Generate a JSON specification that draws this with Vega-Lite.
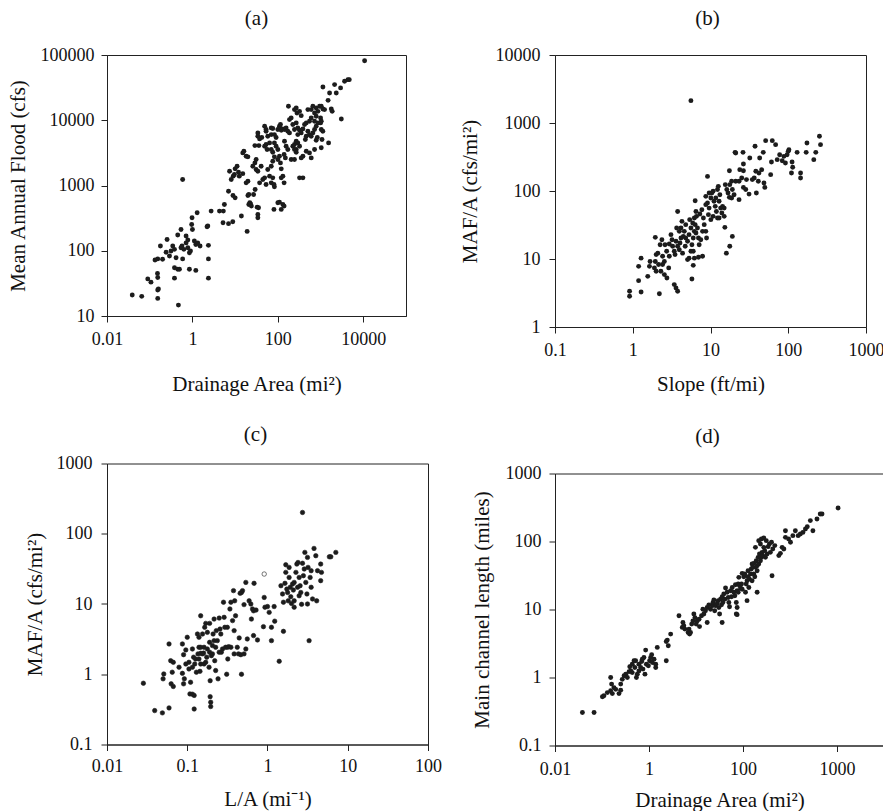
{
  "$schema": "https://vega.github.io/schema/vega-lite/v6.json",
  "background": "white",
  "padding": {"left": 6, "top": 7, "right": 0, "bottom": 0},
  "config": {
    "font": "Liberation Serif",
    "view": {"stroke": "#222", "strokeWidth": 1},
    "axis": {"grid": false, "domainColor": "#222", "tickColor": "#222", "labelColor": "#111", "titleColor": "#111", "labelFontSize": 18, "titleFontSize": 21, "titleFontWeight": "normal", "tickSize": 6, "labelFlush": false, "labelOverlap": false, "labelBound": false, "labelFont": "Liberation Serif", "titleFont": "Liberation Serif"},
    "title": {"fontSize": 21, "fontWeight": "normal", "font": "Liberation Serif", "color": "#111", "baseline": "alphabetic", "frame": "group", "anchor": "middle"},
    "circle": {"size": 24, "opacity": 1, "color": "#1c1c1c"}
  },
  "datasets": {
    "a": [
      {"area":0.039,"maf":21},{"area":0.065,"maf":20},{"area":0.154,"maf":18.6},{"area":0.09,"maf":37},{"area":0.107,"maf":33},{"area":0.154,"maf":25},{"area":0.16,"maf":26},{"area":0.154,"maf":39},{"area":0.152,"maf":45},{"area":0.47,"maf":14.7},
      {"area":0.38,"maf":38},{"area":0.59,"maf":75},{"area":0.133,"maf":72},{"area":0.154,"maf":75},{"area":0.178,"maf":118},{"area":0.242,"maf":95},{"area":0.2,"maf":74},{"area":0.255,"maf":149},{"area":0.29,"maf":83},{"area":0.316,"maf":99},
      {"area":0.346,"maf":118},{"area":0.38,"maf":105},{"area":0.414,"maf":78},{"area":0.38,"maf":55},{"area":0.453,"maf":52},{"area":0.496,"maf":52},{"area":0.54,"maf":111},{"area":0.57,"maf":118},{"area":0.63,"maf":105},{"area":0.71,"maf":132},
      {"area":0.78,"maf":111},{"area":0.85,"maf":93},{"area":0.85,"maf":52},{"area":0.78,"maf":146},{"area":0.71,"maf":168},{"area":0.453,"maf":174},{"area":0.54,"maf":212},{"area":0.59,"maf":1236},{"area":0.96,"maf":253},{"area":0.98,"maf":320},
      {"area":1.29,"maf":382},{"area":1.0,"maf":212},{"area":1.11,"maf":141},{"area":1.2,"maf":125},{"area":1.33,"maf":132},{"area":1.51,"maf":118},{"area":1.2,"maf":50},{"area":0.9,"maf":99},{"area":2.29,"maf":239},{"area":2.2,"maf":233},
      {"area":2.37,"maf":121},{"area":2.37,"maf":75},{"area":2.37,"maf":38},{"area":2.74,"maf":405},{"area":4.3,"maf":405},{"area":5.3,"maf":405},{"area":5.6,"maf":512},{"area":5.2,"maf":268},{"area":7.0,"maf":260},{"area":8.8,"maf":278},
      {"area":7.0,"maf":818},{"area":8.9,"maf":703},{"area":10,"maf":647},{"area":7.4,"maf":1655},{"area":8.1,"maf":1236},{"area":9.0,"maf":1390},{"area":9.6,"maf":1474},{"area":10,"maf":1798},{"area":11.1,"maf":1977},{"area":12,"maf":1600},
      {"area":12.5,"maf":1390},{"area":15.1,"maf":1520},{"area":14,"maf":340},{"area":19.1,"maf":198},{"area":19.9,"maf":703},{"area":20.9,"maf":512},{"area":22,"maf":543},{"area":20.9,"maf":728},{"area":23,"maf":520},{"area":24,"maf":483},
      {"area":18.1,"maf":1099},{"area":19.9,"maf":1160},{"area":15.1,"maf":3160},{"area":16,"maf":3350},{"area":18.1,"maf":2810},{"area":19.9,"maf":2750},{"area":27,"maf":728},{"area":29.4,"maf":869},{"area":32.8,"maf":466},{"area":34,"maf":360},
      {"area":34,"maf":320},{"area":35.3,"maf":455},{"area":25.9,"maf":1977},{"area":29,"maf":2220},{"area":31,"maf":2500},{"area":31,"maf":1760},{"area":34,"maf":1655},{"area":40.6,"maf":1977},{"area":37.4,"maf":1099},{"area":44.5,"maf":1236},
      {"area":49,"maf":1310},{"area":53,"maf":1035},{"area":58,"maf":1760},{"area":64,"maf":1390},{"area":70,"maf":1099},{"area":70,"maf":1977},{"area":76,"maf":1310},{"area":81,"maf":1035},{"area":83,"maf":955},{"area":76,"maf":2355},
      {"area":83,"maf":2750},{"area":76,"maf":3236},{"area":70,"maf":3556},{"area":64,"maf":4500},{"area":53,"maf":6790},{"area":58,"maf":5690},{"area":70,"maf":6030},{"area":83,"maf":4500},{"area":91,"maf":4000},{"area":100,"maf":3556},
      {"area":109,"maf":2810},{"area":100,"maf":2500},{"area":115,"maf":2220},{"area":120,"maf":1800},{"area":131,"maf":1390},{"area":140,"maf":1099},{"area":120,"maf":1310},{"area":131,"maf":512},{"area":140,"maf":483},{"area":120,"maf":430},
      {"area":109,"maf":556},{"area":100,"maf":543},{"area":81,"maf":430},{"area":34,"maf":5690},{"area":37.4,"maf":5180},{"area":42,"maf":5430},{"area":49,"maf":8090},{"area":53,"maf":7200},{"area":34,"maf":6400},{"area":29,"maf":4090},
      {"area":36,"maf":4090},{"area":49,"maf":4000},{"area":53,"maf":4250},{"area":56,"maf":3556},{"area":70,"maf":7640},{"area":76,"maf":7460},{"area":83,"maf":6030},{"area":91,"maf":5430},{"area":100,"maf":7200},{"area":109,"maf":8090},
      {"area":115,"maf":8590},{"area":120,"maf":7040},{"area":131,"maf":7370},{"area":143,"maf":7200},{"area":156,"maf":7640},{"area":171,"maf":6790},{"area":187,"maf":6400},{"area":143,"maf":4770},{"area":156,"maf":4000},{"area":171,"maf":3556},
      {"area":140,"maf":2980},{"area":150,"maf":2650},{"area":205,"maf":2500},{"area":224,"maf":4000},{"area":245,"maf":4250},{"area":187,"maf":10230},{"area":205,"maf":10860},{"area":224,"maf":8590},{"area":245,"maf":7200},{"area":269,"maf":9100},
      {"area":293,"maf":7640},{"area":322,"maf":7040},{"area":352,"maf":6400},{"area":386,"maf":7370},{"area":422,"maf":8590},{"area":462,"maf":9100},{"area":462,"maf":5690},{"area":440,"maf":5080},{"area":269,"maf":4770},{"area":293,"maf":4500},
      {"area":322,"maf":4000},{"area":269,"maf":3556},{"area":245,"maf":2500},{"area":245,"maf":3556},{"area":293,"maf":6030},{"area":177,"maf":16370},{"area":245,"maf":14560},{"area":269,"maf":15420},{"area":280,"maf":12940},{"area":322,"maf":13700},
      {"area":352,"maf":11770},{"area":505,"maf":14560},{"area":604,"maf":14560},{"area":723,"maf":12940},{"area":660,"maf":16370},{"area":790,"maf":15420},{"area":866,"maf":13700},{"area":950,"maf":16370},{"area":1037,"maf":16370},{"area":1130,"maf":14900},
      {"area":1000,"maf":10860},{"area":1037,"maf":9660},{"area":1240,"maf":14560},{"area":505,"maf":6790},{"area":550,"maf":6030},{"area":604,"maf":5690},{"area":660,"maf":6400},{"area":723,"maf":7200},{"area":790,"maf":8090},{"area":866,"maf":9100},
      {"area":723,"maf":9660},{"area":790,"maf":11510},{"area":550,"maf":9660},{"area":604,"maf":10860},{"area":1037,"maf":7200},{"area":790,"maf":4940},{"area":1037,"maf":3780},{"area":386,"maf":2810},{"area":352,"maf":2650},{"area":322,"maf":1310},
      {"area":386,"maf":1310},{"area":269,"maf":3236},{"area":1000,"maf":9100},{"area":1130,"maf":6790},{"area":840,"maf":5430},{"area":1080,"maf":5080},{"area":723,"maf":3556},{"area":550,"maf":3160},{"area":462,"maf":3350},{"area":604,"maf":2650},
      {"area":1135,"maf":32400},{"area":1625,"maf":26200},{"area":1500,"maf":20200},{"area":1780,"maf":14900},{"area":1870,"maf":13700},{"area":1540,"maf":4500},{"area":2130,"maf":35200},{"area":2330,"maf":26200},{"area":2940,"maf":31300},{"area":3060,"maf":10470},
      {"area":3650,"maf":39500},{"area":4370,"maf":41900},{"area":4700,"maf":41900},{"area":10740,"maf":81800}
    ],
    "b": [
      {"slope":0.91,"mafA":3.35},{"slope":0.91,"mafA":2.83},{"slope":1.28,"mafA":3.27},{"slope":1.19,"mafA":4.8},{"slope":1.19,"mafA":7.8},{"slope":1.28,"mafA":10.3},{"slope":1.56,"mafA":5.56},{"slope":1.67,"mafA":9.2},{"slope":1.95,"mafA":20.8},{"slope":2.0,"mafA":11.6},
      {"slope":1.95,"mafA":9.2},{"slope":1.9,"mafA":7.4},{"slope":2.2,"mafA":3.09},{"slope":2.15,"mafA":8.3},{"slope":2.3,"mafA":6.6},{"slope":2.25,"mafA":16.2},{"slope":2.37,"mafA":19.2},{"slope":2.42,"mafA":11},{"slope":2.55,"mafA":9.2},{"slope":2.73,"mafA":13},
      {"slope":2.6,"mafA":16.2},{"slope":2.75,"mafA":5.25},{"slope":2.9,"mafA":7.4},{"slope":2.95,"mafA":11},{"slope":3.1,"mafA":22.8},{"slope":3.26,"mafA":15.4},{"slope":3.2,"mafA":19.2},{"slope":3.42,"mafA":13},{"slope":3.5,"mafA":11.6},{"slope":3.42,"mafA":4.2},
      {"slope":3.6,"mafA":3.75},{"slope":3.78,"mafA":3.35},{"slope":3.78,"mafA":50},{"slope":3.67,"mafA":28.6},{"slope":3.78,"mafA":15.4},{"slope":3.97,"mafA":13.7},{"slope":4.05,"mafA":17.2},{"slope":4.17,"mafA":28.6},{"slope":4.29,"mafA":35.8},{"slope":4.47,"mafA":21.5},
      {"slope":4.6,"mafA":25.5},{"slope":4.73,"mafA":15.4},{"slope":4.8,"mafA":20.4},{"slope":5.07,"mafA":9.8},{"slope":5.3,"mafA":10.3},{"slope":5.6,"mafA":13},{"slope":5.3,"mafA":22.8},{"slope":5.6,"mafA":28.6},{"slope":5.4,"mafA":37.9},{"slope":5.77,"mafA":16.2},
      {"slope":6.0,"mafA":20.4},{"slope":6.2,"mafA":25.5},{"slope":6.35,"mafA":32},{"slope":6.2,"mafA":40},{"slope":6.35,"mafA":72},{"slope":6.5,"mafA":50},{"slope":6.6,"mafA":42.4},{"slope":6.8,"mafA":28.6},{"slope":7.0,"mafA":20.4},{"slope":7.15,"mafA":16.2},
      {"slope":6.0,"mafA":13},{"slope":6.0,"mafA":8.07},{"slope":5.77,"mafA":5.08},{"slope":7.0,"mafA":10.6},{"slope":7.9,"mafA":11},{"slope":7.3,"mafA":45.9},{"slope":7.74,"mafA":53},{"slope":8.1,"mafA":40},{"slope":8.3,"mafA":32},{"slope":8.7,"mafA":25.5},
      {"slope":8.9,"mafA":20.4},{"slope":9.15,"mafA":164},{"slope":8.7,"mafA":83.5},{"slope":9.15,"mafA":66.7},{"slope":9.6,"mafA":56},{"slope":9.4,"mafA":44.9},{"slope":10.1,"mafA":79},{"slope":10.4,"mafA":93.5},{"slope":9.6,"mafA":93.5},{"slope":10.8,"mafA":99},
      {"slope":11.1,"mafA":70.5},{"slope":11.5,"mafA":59.5},{"slope":11.7,"mafA":79},{"slope":11.9,"mafA":50},{"slope":12.3,"mafA":105},{"slope":12.6,"mafA":117},{"slope":12.3,"mafA":40},{"slope":12.9,"mafA":70.5},{"slope":13.2,"mafA":88},{"slope":13.5,"mafA":56},
      {"slope":14,"mafA":47.5},{"slope":14.3,"mafA":59.5},{"slope":15,"mafA":42.4},{"slope":15.3,"mafA":29.2},{"slope":16,"mafA":12.2},{"slope":17.7,"mafA":15.4},{"slope":19.1,"mafA":21.5},{"slope":15.5,"mafA":124},{"slope":16.2,"mafA":105},{"slope":16.8,"mafA":93.5},
      {"slope":17.5,"mafA":80.7},{"slope":17.7,"mafA":124},{"slope":18.7,"mafA":139},{"slope":19.1,"mafA":105},{"slope":20.1,"mafA":88},{"slope":17.5,"mafA":199},{"slope":18.7,"mafA":79},{"slope":21.1,"mafA":139},{"slope":21.1,"mafA":362},{"slope":20.7,"mafA":370},
      {"slope":23.3,"mafA":139},{"slope":23.3,"mafA":74.6},{"slope":23.8,"mafA":206},{"slope":25.2,"mafA":155},{"slope":26.2,"mafA":370},{"slope":26.5,"mafA":249},{"slope":26.5,"mafA":199},{"slope":26.5,"mafA":113},{"slope":28.4,"mafA":105},{"slope":29,"mafA":147},
      {"slope":31.3,"mafA":90},{"slope":32,"mafA":305},{"slope":34.5,"mafA":147},{"slope":36.5,"mafA":155},{"slope":37.4,"mafA":454},{"slope":38.3,"mafA":195},{"slope":38.9,"mafA":93.5},{"slope":41.2,"mafA":139},{"slope":42,"mafA":184},{"slope":42.9,"mafA":305},
      {"slope":45.5,"mafA":206},{"slope":47.7,"mafA":370},{"slope":48.7,"mafA":131},{"slope":50,"mafA":113},{"slope":51.2,"mafA":550},{"slope":59.4,"mafA":174},{"slope":60.8,"mafA":267},{"slope":62.3,"mafA":550},{"slope":68.8,"mafA":480},{"slope":72.1,"mafA":289},
      {"slope":77.5,"mafA":342},{"slope":83.7,"mafA":279},{"slope":88,"mafA":323},{"slope":92,"mafA":258},{"slope":96.6,"mafA":342},{"slope":102,"mafA":405},{"slope":100,"mafA":383},{"slope":112,"mafA":267},{"slope":110,"mafA":184},{"slope":114,"mafA":223},
      {"slope":130,"mafA":370},{"slope":144,"mafA":184},{"slope":144,"mafA":155},{"slope":170,"mafA":370},{"slope":174,"mafA":508},{"slope":213,"mafA":289},{"slope":226,"mafA":370},{"slope":252,"mafA":637},{"slope":260,"mafA":480},{"slope":5.6,"mafA":2130},
      {"slope":4.17,"mafA":20.4},{"slope":4.37,"mafA":12.2},{"slope":5.07,"mafA":18.2},{"slope":6.5,"mafA":24.1},{"slope":7.5,"mafA":19.2},{"slope":7.9,"mafA":25.5},{"slope":3.97,"mafA":25.5},{"slope":2.95,"mafA":16.6},{"slope":2.42,"mafA":8.3},{"slope":2.1,"mafA":12.2},
      {"slope":3.6,"mafA":18.2},{"slope":4.8,"mafA":32},{"slope":5.9,"mafA":33.8},{"slope":10.8,"mafA":42.4},{"slope":10.1,"mafA":37.9},{"slope":8.7,"mafA":63},{"slope":15,"mafA":56},{"slope":12.9,"mafA":40},{"slope":2.55,"mafA":5.9},{"slope":2.0,"mafA":6.6},
      {"slope":1.64,"mafA":7.8},{"slope":6.2,"mafA":10.3}
    ],
    "c": [
      {"LA":0.0284,"mafA":0.745},{"LA":0.0393,"mafA":0.304},{"LA":0.049,"mafA":0.282},{"LA":0.0593,"mafA":0.332},{"LA":0.051,"mafA":1.01},{"LA":0.05,"mafA":0.86},{"LA":0.0593,"mafA":2.7},{"LA":0.0622,"mafA":1.56},{"LA":0.067,"mafA":1.48},{"LA":0.063,"mafA":0.73},
      {"LA":0.067,"mafA":0.67},{"LA":0.065,"mafA":1.07},{"LA":0.079,"mafA":1.26},{"LA":0.087,"mafA":2.7},{"LA":0.09,"mafA":1.9},{"LA":0.09,"mafA":0.73},{"LA":0.092,"mafA":0.86},{"LA":0.096,"mafA":2.22},{"LA":0.1,"mafA":3.36},{"LA":0.105,"mafA":1.48},
      {"LA":0.105,"mafA":1.19},{"LA":0.108,"mafA":0.525},{"LA":0.116,"mafA":0.52},{"LA":0.122,"mafA":0.32},{"LA":0.122,"mafA":0.5},{"LA":0.11,"mafA":0.77},{"LA":0.116,"mafA":2.29},{"LA":0.12,"mafA":1.75},{"LA":0.124,"mafA":1.4},{"LA":0.127,"mafA":1.65},
      {"LA":0.134,"mafA":3.74},{"LA":0.136,"mafA":1.95},{"LA":0.14,"mafA":3.36},{"LA":0.14,"mafA":1.65},{"LA":0.144,"mafA":1.1},{"LA":0.147,"mafA":1.4},{"LA":0.147,"mafA":1.99},{"LA":0.155,"mafA":3.74},{"LA":0.16,"mafA":2.0},{"LA":0.162,"mafA":2.42},
      {"LA":0.165,"mafA":4.66},{"LA":0.17,"mafA":5.3},{"LA":0.175,"mafA":1.75},{"LA":0.178,"mafA":2.29},{"LA":0.178,"mafA":3.95},{"LA":0.19,"mafA":5.3},{"LA":0.19,"mafA":2.85},{"LA":0.19,"mafA":2.06},{"LA":0.193,"mafA":0.48},{"LA":0.196,"mafA":0.4},
      {"LA":0.196,"mafA":0.347},{"LA":0.193,"mafA":0.81},{"LA":0.2,"mafA":1.84},{"LA":0.206,"mafA":2.56},{"LA":0.21,"mafA":3.74},{"LA":0.216,"mafA":6.1},{"LA":0.22,"mafA":1.56},{"LA":0.226,"mafA":1.13},{"LA":0.23,"mafA":4.18},{"LA":0.242,"mafA":0.86},
      {"LA":0.25,"mafA":2.06},{"LA":0.256,"mafA":4.4},{"LA":0.266,"mafA":2.06},{"LA":0.275,"mafA":2.29},{"LA":0.283,"mafA":10.6},{"LA":0.288,"mafA":6.46},{"LA":0.294,"mafA":4.66},{"LA":0.3,"mafA":2.42},{"LA":0.31,"mafA":1.0},{"LA":0.32,"mafA":1.65},
      {"LA":0.33,"mafA":2.47},{"LA":0.34,"mafA":8.5},{"LA":0.35,"mafA":2.42},{"LA":0.367,"mafA":5.8},{"LA":0.377,"mafA":15.5},{"LA":0.384,"mafA":1.95},{"LA":0.39,"mafA":11.1},{"LA":0.4,"mafA":6.8},{"LA":0.42,"mafA":2.42},{"LA":0.444,"mafA":3.29},
      {"LA":0.456,"mafA":14.2},{"LA":0.474,"mafA":14.6},{"LA":0.465,"mafA":1.9},{"LA":0.474,"mafA":1.0},{"LA":0.488,"mafA":15.5},{"LA":0.51,"mafA":1.95},{"LA":0.537,"mafA":2.29},{"LA":0.56,"mafA":3.18},{"LA":0.537,"mafA":20.3},{"LA":0.59,"mafA":11.1},
      {"LA":0.62,"mafA":10},{"LA":0.65,"mafA":8.5},{"LA":0.67,"mafA":8.0},{"LA":0.63,"mafA":6.1},{"LA":0.67,"mafA":3.55},{"LA":0.68,"mafA":19.7},{"LA":0.75,"mafA":3.08},{"LA":0.72,"mafA":8.2},{"LA":0.91,"mafA":26.7,"open":1},{"LA":0.91,"mafA":12.4},
      {"LA":0.93,"mafA":9.0},{"LA":0.89,"mafA":4.76},{"LA":1.0,"mafA":9.2},{"LA":1.05,"mafA":7.6},{"LA":1.12,"mafA":4.66},{"LA":1.12,"mafA":3.01},{"LA":1.23,"mafA":5.7},{"LA":1.21,"mafA":9.2},{"LA":1.4,"mafA":1.53},{"LA":1.58,"mafA":4.08},
      {"LA":1.47,"mafA":18.2},{"LA":1.54,"mafA":13.9},{"LA":1.58,"mafA":10.6},{"LA":1.65,"mafA":19.7},{"LA":1.69,"mafA":28.2},{"LA":1.69,"mafA":36.2},{"LA":1.74,"mafA":16.3},{"LA":1.78,"mafA":14.6},{"LA":1.81,"mafA":11.1},{"LA":1.86,"mafA":23.9},
      {"LA":1.86,"mafA":33.2},{"LA":1.92,"mafA":17.3},{"LA":1.95,"mafA":12.7},{"LA":1.99,"mafA":10.2},{"LA":2.05,"mafA":19.2},{"LA":2.1,"mafA":15.8},{"LA":2.15,"mafA":11.1},{"LA":2.26,"mafA":28.2},{"LA":2.32,"mafA":37},{"LA":2.37,"mafA":17.3},
      {"LA":2.4,"mafA":39},{"LA":2.48,"mafA":23.9},{"LA":2.55,"mafA":18.2},{"LA":2.6,"mafA":14.6},{"LA":2.66,"mafA":9.9},{"LA":2.73,"mafA":201},{"LA":2.73,"mafA":38},{"LA":2.8,"mafA":25.3},{"LA":2.87,"mafA":31.5},{"LA":2.92,"mafA":54.3},
      {"LA":3.0,"mafA":20.3},{"LA":3.1,"mafA":13.9},{"LA":3.15,"mafA":46.1},{"LA":3.2,"mafA":33.2},{"LA":3.3,"mafA":3.01},{"LA":3.4,"mafA":23.9},{"LA":3.5,"mafA":29.8},{"LA":3.64,"mafA":11.8},{"LA":3.8,"mafA":61.8},{"LA":4.0,"mafA":48.7},
      {"LA":4.1,"mafA":11.1},{"LA":4.2,"mafA":29.8},{"LA":4.6,"mafA":37},{"LA":4.7,"mafA":28.2},{"LA":5.9,"mafA":47},{"LA":6.15,"mafA":47},{"LA":7.1,"mafA":54.3},{"LA":3.15,"mafA":10},{"LA":2.15,"mafA":9.0},{"LA":0.216,"mafA":3.01},
      {"LA":0.155,"mafA":1.95},{"LA":0.14,"mafA":2.42},{"LA":0.162,"mafA":1.4},{"LA":0.13,"mafA":1.07},{"LA":0.116,"mafA":1.26},{"LA":0.147,"mafA":2.42},{"LA":0.226,"mafA":2.42},{"LA":0.237,"mafA":3.01},{"LA":0.262,"mafA":3.74},{"LA":0.316,"mafA":2.42},
      {"LA":0.384,"mafA":4.18},{"LA":0.435,"mafA":1.95},{"LA":0.206,"mafA":1.95},{"LA":0.187,"mafA":1.26},{"LA":0.17,"mafA":1.48},{"LA":0.096,"mafA":1.4},{"LA":0.087,"mafA":1.03},{"LA":0.147,"mafA":6.8},{"LA":0.25,"mafA":6.3},{"LA":0.316,"mafA":4.66},
      {"LA":0.35,"mafA":10.6},{"LA":0.51,"mafA":9.8},{"LA":2.15,"mafA":20.3},{"LA":2.48,"mafA":13.1},{"LA":4.6,"mafA":21.5},{"LA":3.5,"mafA":17.3}
    ],
    "d": [
      {"area":0.0383,"length":0.305},{"area":0.0678,"length":0.305},{"area":0.102,"length":0.52},{"area":0.11,"length":0.54},{"area":0.13,"length":0.6},{"area":0.153,"length":0.64},{"area":0.153,"length":1.0},{"area":0.16,"length":0.8},{"area":0.18,"length":0.71},{"area":0.166,"length":0.58},
      {"area":0.196,"length":0.67},{"area":0.23,"length":0.58},{"area":0.25,"length":0.65},{"area":0.25,"length":0.8},{"area":0.27,"length":0.94},{"area":0.295,"length":1.06},{"area":0.32,"length":1.12},{"area":0.346,"length":1.0},{"area":0.376,"length":1.22},{"area":0.39,"length":1.44},
      {"area":0.41,"length":1.25},{"area":0.44,"length":1.57},{"area":0.48,"length":1.76},{"area":0.5,"length":1.4},{"area":0.52,"length":1.76},{"area":0.54,"length":1.0},{"area":0.565,"length":1.12},{"area":0.61,"length":1.57},{"area":0.665,"length":1.4},{"area":0.7,"length":1.72},
      {"area":0.745,"length":1.33},{"area":0.78,"length":1.97},{"area":0.82,"length":1.12},{"area":0.85,"length":2.53},{"area":0.88,"length":1.57},{"area":0.97,"length":1.49},{"area":1.03,"length":1.76},{"area":1.085,"length":1.97},{"area":1.14,"length":2.16},{"area":1.18,"length":1.66},
      {"area":1.28,"length":1.86},{"area":1.39,"length":1.4},{"area":1.5,"length":2.77},{"area":2.33,"length":1.76},{"area":2.33,"length":3.39},{"area":2.57,"length":2.93},{"area":2.45,"length":3.55},{"area":2.89,"length":4.35},{"area":4.34,"length":8.1},{"area":5.1,"length":5.45},
      {"area":5.27,"length":6.45},{"area":5.5,"length":5.77},{"area":5.8,"length":5.15},{"area":6.8,"length":4.6},{"area":7.3,"length":4.35},{"area":7.65,"length":4.6},{"area":7.1,"length":5.15},{"area":8.1,"length":6.1},{"area":8.6,"length":6.8},{"area":9.0,"length":8.6},
      {"area":9.5,"length":7.6},{"area":10.1,"length":6.1},{"area":10.6,"length":6.8},{"area":11.6,"length":7.2},{"area":11.9,"length":5.6},{"area":13.1,"length":8.1},{"area":14.0,"length":10.1},{"area":14.7,"length":8.6},{"area":15.9,"length":9.6},{"area":17.3,"length":6.45},
      {"area":17.3,"length":10.7},{"area":18.8,"length":11.7},{"area":20.4,"length":10.1},{"area":22.2,"length":11.4},{"area":23,"length":12.7},{"area":24,"length":13.8},{"area":25,"length":9.6},{"area":26,"length":11.4},{"area":28.3,"length":12.3},{"area":29.6,"length":13.5},
      {"area":30.6,"length":10.7},{"area":31.8,"length":8.6},{"area":33.3,"length":14.2},{"area":34.9,"length":11.7},{"area":36,"length":15.4},{"area":37.3,"length":12.7},{"area":36,"length":6.45},{"area":39,"length":16.9},{"area":41,"length":14.2},{"area":42.5,"length":20.7},
      {"area":46,"length":17.9},{"area":48.5,"length":15.0},{"area":50,"length":12.7},{"area":51.7,"length":11.0},{"area":54.5,"length":18.9},{"area":57,"length":15.4},{"area":59,"length":21.1},{"area":64,"length":17.9},{"area":67,"length":15.9},{"area":69,"length":23.1},
      {"area":72,"length":8.6},{"area":72,"length":12.7},{"area":75,"length":18.9},{"area":79,"length":17.9},{"area":75,"length":8.4},{"area":75,"length":10.7},{"area":79,"length":23.7},{"area":81.5,"length":29.7},{"area":84,"length":22.6},{"area":88.5,"length":20.7},
      {"area":93,"length":23.7},{"area":96,"length":19.9},{"area":96,"length":34},{"area":104,"length":30.3},{"area":109,"length":33.2},{"area":113,"length":17.9},{"area":117,"length":23.7},{"area":122,"length":26.5},{"area":122,"length":13.5},{"area":128,"length":37.2},
      {"area":128,"length":30.3},{"area":133,"length":21.1},{"area":137,"length":28},{"area":144,"length":33.2},{"area":150,"length":39.4},{"area":156,"length":26.5},{"area":156,"length":46.7},{"area":161,"length":41.7},{"area":170,"length":33.2},{"area":170,"length":47.7},
      {"area":178,"length":30.3},{"area":184,"length":41.7},{"area":191,"length":52.2},{"area":200,"length":37.2},{"area":200,"length":44},{"area":210,"length":58.5},{"area":216,"length":46.7},{"area":224,"length":65.5},{"area":235,"length":52.2},{"area":246,"length":58.5},
      {"area":255,"length":69.2},{"area":264,"length":62},{"area":277,"length":82},{"area":290,"length":73.3},{"area":300,"length":58.5},{"area":326,"length":65.5},{"area":343,"length":84},{"area":364,"length":91.9},{"area":382,"length":69.2},{"area":404,"length":97.3},
      {"area":430,"length":77.6},{"area":475,"length":87},{"area":578,"length":62},{"area":625,"length":67},{"area":680,"length":82},{"area":740,"length":77.6},{"area":800,"length":115},{"area":800,"length":144},{"area":935,"length":109},{"area":1025,"length":97.3},
      {"area":1150,"length":122},{"area":1300,"length":144},{"area":1490,"length":122},{"area":1660,"length":129},{"area":1880,"length":136},{"area":2130,"length":153},{"area":2330,"length":165},{"area":2710,"length":203},{"area":3070,"length":144},{"area":3750,"length":214},
      {"area":4400,"length":254},{"area":4800,"length":254},{"area":10540,"length":311},{"area":216,"length":103},{"area":246,"length":109},{"area":277,"length":113},{"area":313,"length":103},{"area":184,"length":82},{"area":235,"length":92},{"area":415,"length":31.4},
      {"area":200,"length":17.9},{"area":1.39,"length":1.57},{"area":0.72,"length":1.86},{"area":0.61,"length":1.25},{"area":0.44,"length":1.18}
    ]
  },
  "spacing": 16,
  "hconcat": [
    {
      "spacing": 147.5,
      "bounds": "flush",
      "vconcat": [
        {
          "title": {"text": "(a)", "offset": 17.5},
          "width": 299, "height": 261,
          "data": {"name": "a"},
          "mark": {"type": "circle"},
          "encoding": {
            "x": {"field": "area", "type": "quantitative", "scale": {"type": "log", "domain": [0.01, 100000], "nice": false},
                  "axis": {"values": [0.01, 1, 100, 10000], "labelExpr": "datum.value + ''", "title": "Drainage Area (mi²)", "labelPadding": 8, "titlePadding": 25}},
            "y": {"field": "maf", "type": "quantitative", "scale": {"type": "log", "domain": [10, 100000], "nice": false},
                  "axis": {"values": [10, 100, 1000, 10000, 100000], "labelExpr": "datum.value + ''", "title": "Mean Annual Flood (cfs)", "labelPadding": 7, "titlePadding": 12}}
          }
        },
        {
          "title": {"text": "(c)", "offset": 10, "dx": -12},
          "width": 321, "height": 281,
          "data": {"name": "c"},
          "mark": {"type": "circle", "stroke": "#1c1c1c", "strokeWidth": 0.6, "size": 20},
          "encoding": {
            "x": {"field": "LA", "type": "quantitative", "scale": {"type": "log", "domain": [0.01, 100], "nice": false},
                  "axis": {"values": [0.01, 0.1, 1, 10, 100], "labelExpr": "datum.value + ''", "title": "L/A (mi⁻¹)", "labelPadding": 7, "titlePadding": 13}},
            "y": {"field": "mafA", "type": "quantitative", "scale": {"type": "log", "domain": [0.1, 1000], "nice": false},
                  "axis": {"values": [0.1, 1, 10, 100, 1000], "labelExpr": "datum.value + ''", "title": "MAF/A (cfs/mi²)", "labelPadding": 9, "titlePadding": 11}},
            "fill": {"condition": {"test": "datum.open", "value": "white"}, "value": "#1c1c1c"}
          }
        }
      ]
    },
    {
      "spacing": 146.5,
      "bounds": "flush",
      "vconcat": [
        {
          "title": {"text": "(b)", "offset": 17.5, "dx": -3},
          "width": 311, "height": 272,
          "data": {"name": "b"},
          "mark": {"type": "circle"},
          "encoding": {
            "x": {"field": "slope", "type": "quantitative", "scale": {"type": "log", "domain": [0.1, 1000], "nice": false},
                  "axis": {"values": [0.1, 1, 10, 100, 1000], "labelExpr": "datum.value + ''", "title": "Slope (ft/mi)", "labelPadding": 8, "titlePadding": 14}},
            "y": {"field": "mafA", "type": "quantitative", "scale": {"type": "log", "domain": [1, 10000], "nice": false},
                  "axis": {"values": [1, 10, 100, 1000, 10000], "labelExpr": "datum.value + ''", "title": "MAF/A (cfs/mi²)", "labelPadding": 9, "titlePadding": 15}}
          }
        },
        {
          "title": {"text": "(d)", "offset": 18, "dx": -12},
          "width": 329, "height": 272,
          "data": {"name": "d"},
          "mark": {"type": "circle"},
          "encoding": {
            "x": {"field": "area", "type": "quantitative", "scale": {"type": "log", "domain": [0.01, 100000], "nice": false},
                  "axis": {"values": [0.01, 1, 100, 10000], "labelExpr": "datum.value == 10000 ? '1000' : datum.value + ''", "title": "Drainage Area (mi²)", "labelPadding": 9, "titlePadding": 11}},
            "y": {"field": "length", "type": "quantitative", "scale": {"type": "log", "domain": [0.1, 1000], "nice": false},
                  "axis": {"values": [0.1, 1, 10, 100, 1000], "labelExpr": "datum.value + ''", "title": "Main channel length (miles)", "labelPadding": 8, "titlePadding": 13}}
          }
        }
      ]
    }
  ]
}
